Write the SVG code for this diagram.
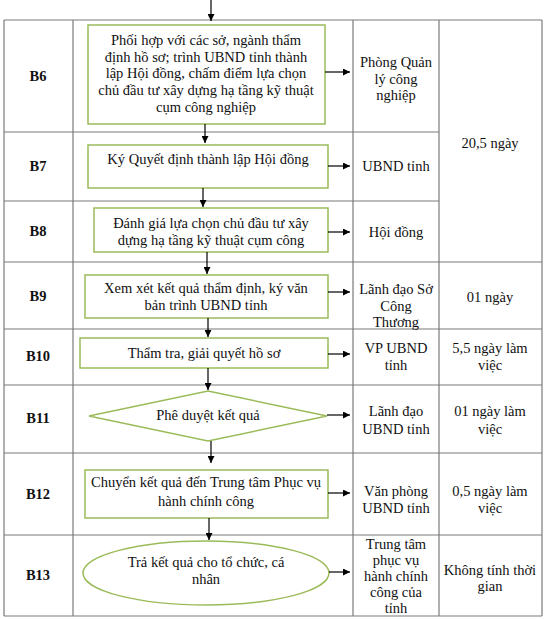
<svg xmlns="http://www.w3.org/2000/svg" width="545" height="619" viewBox="0 0 545 619">
<defs>
<marker id="ah" viewBox="0 0 10 10" refX="10" refY="5" markerWidth="7" markerHeight="7" markerUnits="userSpaceOnUse" orient="auto">
<path d="M0,0 L10,5 L0,10 z" fill="#000"/>
</marker>
<style>
text{font-family:"Liberation Serif","Times New Roman",serif;font-size:14.5px;fill:#111;text-anchor:middle}
.b{font-weight:bold}
.grid line{stroke:#7a7a7a;stroke-width:1.2}
.node rect,.node polygon,.node ellipse{fill:#fff;stroke:#9bbb59;stroke-width:1.5}
.conn line{stroke:#000;stroke-width:1.2;marker-end:url(#ah)}
</style>
</defs>
<rect width="545" height="619" fill="#fff"/>
<g class="grid">
<line x1="4" y1="20" x2="542" y2="20"/>
<line x1="4" y1="616" x2="542" y2="616"/>
<line x1="4" y1="20" x2="4" y2="616"/>
<line x1="73" y1="20" x2="73" y2="616"/>
<line x1="353" y1="20" x2="353" y2="616"/>
<line x1="439" y1="20" x2="439" y2="616"/>
<line x1="542" y1="20" x2="542" y2="616"/>
<line x1="4" y1="132" x2="439" y2="132"/>
<line x1="4" y1="201" x2="439" y2="201"/>
<line x1="4" y1="262" x2="542" y2="262"/>
<line x1="4" y1="329" x2="542" y2="329"/>
<line x1="4" y1="385" x2="542" y2="385"/>
<line x1="4" y1="453" x2="542" y2="453"/>
<line x1="4" y1="535" x2="542" y2="535"/>
</g>
<g id="labels">
<text class="b" x="38" y="81">B6</text>
<text class="b" x="38" y="171">B7</text>
<text class="b" x="38" y="236">B8</text>
<text class="b" x="38" y="301">B9</text>
<text class="b" x="38" y="361">B10</text>
<text class="b" x="38" y="423">B11</text>
<text class="b" x="38" y="499">B12</text>
<text class="b" x="38" y="580">B13</text>
</g>
<g id="B6" class="node">
<rect x="88" y="25" width="237" height="99"/>
<text x="206" y="45">Phối hợp với các sở, ngành thẩm</text>
<text x="206" y="61.7">định hồ sơ; trình UBND tỉnh thành</text>
<text x="206" y="78.3">lập Hội đồng, chấm điểm lựa chọn</text>
<text x="206" y="95">chủ đầu tư xây dựng hạ tầng kỹ thuật</text>
<text x="206" y="111.7">cụm công nghiệp</text>
</g>
<g id="B7" class="node">
<rect x="88" y="145" width="240" height="43"/>
<text x="208" y="164">Ký Quyết định thành lập Hội đồng</text>
</g>
<g id="B8" class="node">
<rect x="94" y="208" width="234" height="44"/>
<text x="211" y="228">Đánh giá lựa chọn chủ đầu tư xây</text>
<text x="211" y="245">dựng hạ tầng kỹ thuật cụm công</text>
</g>
<g id="B9" class="node">
<rect x="85" y="275" width="243" height="43"/>
<text x="206" y="293">Xem xét kết quả thẩm định, ký văn</text>
<text x="206" y="310">bản trình UBND tỉnh</text>
</g>
<g id="B10" class="node">
<rect x="80" y="338" width="248" height="30"/>
<text x="204" y="358">Thẩm tra, giải quyết hồ sơ</text>
</g>
<g id="B11" class="node">
<polygon points="89,416 208,391 327,416 208,441"/>
<text x="208" y="420">Phê duyệt kết quả</text>
</g>
<g id="B12" class="node">
<rect x="85" y="470" width="243" height="48"/>
<text x="206" y="487">Chuyển kết quả đến Trung tâm Phục vụ</text>
<text x="206" y="506">hành chính công</text>
</g>
<g id="B13" class="node">
<ellipse cx="206" cy="573" rx="123" ry="32"/>
<text x="206" y="567">Trả kết quả cho tổ chức, cá</text>
<text x="206" y="584">nhân</text>
</g>
<g id="who">
<text x="396" y="67">Phòng Quản</text>
<text x="396" y="83.5">lý công</text>
<text x="396" y="100">nghiệp</text>
<text x="396" y="171">UBND tỉnh</text>
<text x="396" y="237">Hội đồng</text>
<text x="396" y="294">Lãnh đạo Sở</text>
<text x="396" y="311">Công</text>
<text x="396" y="327">Thương</text>
<text x="396" y="353">VP UBND</text>
<text x="396" y="370">tỉnh</text>
<text x="396" y="416">Lãnh đạo</text>
<text x="396" y="434">UBND tỉnh</text>
<text x="396" y="496">Văn phòng</text>
<text x="396" y="513">UBND tỉnh</text>
<text x="396" y="549">Trung tâm</text>
<text x="396" y="565">phục vụ</text>
<text x="396" y="581">hành chính</text>
<text x="396" y="597">công của</text>
<text x="396" y="613">tỉnh</text>
</g>
<g id="time">
<text x="490" y="148">20,5 ngày</text>
<text x="490" y="302">01 ngày</text>
<text x="490" y="353">5,5 ngày làm</text>
<text x="490" y="370">việc</text>
<text x="490" y="416">01 ngày làm</text>
<text x="490" y="434">việc</text>
<text x="490" y="496">0,5 ngày làm</text>
<text x="490" y="513">việc</text>
<text x="490" y="575">Không tính thời</text>
<text x="490" y="591">gian</text>
</g>
<g class="conn">
<line x1="211" y1="0" x2="211" y2="21"/>
<line x1="205" y1="124" x2="205" y2="143"/>
<line x1="203" y1="188" x2="203" y2="207"/>
<line x1="207" y1="252" x2="207" y2="274"/>
<line x1="208" y1="318" x2="208" y2="337"/>
<line x1="208" y1="368" x2="208" y2="390"/>
<line x1="211" y1="441" x2="211" y2="463"/>
<line x1="209" y1="518" x2="209" y2="540"/>
<line x1="325" y1="72" x2="350" y2="72"/>
<line x1="328" y1="166" x2="350" y2="166"/>
<line x1="328" y1="232" x2="350" y2="232"/>
<line x1="328" y1="292" x2="350" y2="292"/>
<line x1="328" y1="354" x2="350" y2="354"/>
<line x1="327" y1="415" x2="350" y2="415"/>
<line x1="328" y1="493" x2="350" y2="493"/>
<line x1="329" y1="572" x2="350" y2="572"/>
</g>
</svg>
